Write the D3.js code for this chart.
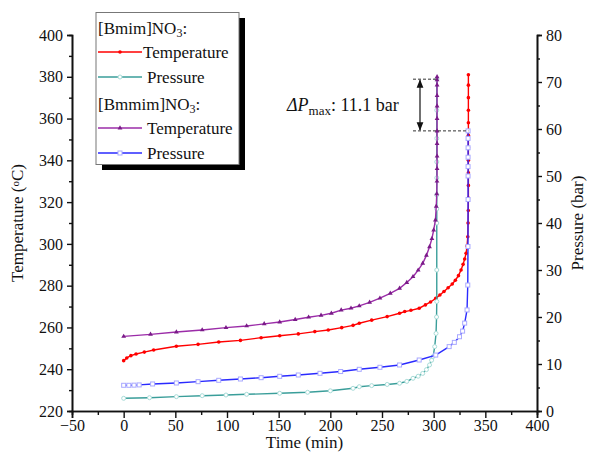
<!DOCTYPE html>
<html>
<head>
<meta charset="utf-8">
<script src="https://cdn.jsdelivr.net/npm/d3@7/dist/d3.min.js"></script>
<style>
  body { margin: 0; background: #fff; }
  svg text { font-family: 'Liberation Serif', 'Times New Roman', serif; fill: #111; }
</style>
</head>
<body>
<svg id="chart" width="590" height="454"></svg>
<script>
// [Bmim]NO3 temperature (red)
const bmimTempTime = [0, 3, 7, 12, 20, 29, 51, 72, 92, 113, 133, 151, 169, 185, 198, 211, 222, 228, 240, 255, 267, 272, 278, 286, 292, 297, 302, 306, 310, 314, 318, 321, 324, 326.5, 328.5, 330, 331.4, 332.3, 333, 333.3, 333.5, 333.6, 333.6, 333.6, 333.6, 333.6, 333.6, 333.6, 333.6, 333.6, 333.6, 333.6];
const bmimTemp = [244.1, 245.4, 246.5, 247.3, 248.2, 249.2, 251.0, 251.9, 253.0, 253.8, 255.1, 256.0, 256.9, 258.0, 258.8, 259.9, 261.0, 262.0, 263.5, 265.2, 266.8, 267.6, 268.2, 269.2, 270.8, 272.2, 273.9, 275.5, 277.2, 279.0, 280.8, 282.6, 284.8, 287.5, 290.2, 292.8, 295.5, 299, 303.4, 310, 316, 322, 328, 334, 340, 346, 352, 358, 364, 370, 376, 381];

// [Bmim]NO3 pressure (teal)
const bmimPresTime = [0, 25, 51, 76, 99, 119, 151, 178, 200, 222, 228, 240, 255, 267, 274, 280, 285, 289.4, 293, 296, 298, 299.5, 301, 302.3, 302.8, 303, 303, 303, 303, 303, 303, 303, 303, 303, 303];
const bmimPres = [2.7, 2.83, 3.05, 3.26, 3.4, 3.55, 3.77, 3.98, 4.3, 4.83, 5.17, 5.4, 5.65, 5.9, 6.3, 6.96, 7.4, 8.0, 8.8, 9.8, 10.8, 11.6, 13.7, 16.5, 20, 23.3, 30, 40, 43, 46, 49.6, 53, 58, 64, 70.6];

// [Bmmim]NO3 temperature (purple)
const bmmimTempTime = [0, 26, 51, 76, 99, 119, 136, 151, 166, 179, 191, 201, 210.5, 220, 228, 238, 248, 258, 267, 274, 280, 285, 289.4, 293, 296, 298.3, 300, 301.7, 302.5, 303, 303.2, 303.3, 303.3, 303.3, 303.3, 303.3, 303.3, 303.3, 303.3, 303.3, 303.3];
const bmmimTemp = [255.7, 256.7, 257.8, 258.8, 259.9, 260.7, 261.7, 262.6, 263.8, 264.9, 265.8, 266.8, 268.3, 269.2, 270.3, 272.0, 274.0, 276.3, 278.7, 281.5, 284.3, 287.4, 290.7, 294.5, 298.6, 302.5, 306.6, 311.4, 318, 324, 330, 336, 342, 348, 354, 360, 366, 371, 376, 378.5, 380];

// [Bmmim]NO3 pressure (blue)
const bmmimPresTime = [0, 5, 10, 15, 28, 51, 72, 92, 113, 133, 151, 169, 190, 210, 228, 248, 267, 286, 302, 315, 320, 325, 328, 330, 332.3, 333, 333.2, 333.3, 333.3, 333.3, 333.3, 333.3, 333.3, 333.3];
const bmmimPres = [5.47, 5.47, 5.5, 5.55, 5.75, 5.96, 6.24, 6.53, 6.81, 7.09, 7.38, 7.66, 8.02, 8.4, 8.87, 9.3, 9.79, 10.85, 11.9, 13.7, 14.6, 15.8, 17, 18.7, 21.5, 26.8, 35, 45, 50, 52, 54, 56, 58, 59.6];

const xTicks = [-50, 0, 50, 100, 150, 200, 250, 300, 350, 400];
const tempTicks = [220, 240, 260, 280, 300, 320, 340, 360, 380, 400];
const presTicks = [0, 10, 20, 30, 40, 50, 60, 70, 80];
const deltaP = '11.1';

const svg = d3.select('#chart');
const plotLeft = 72, plotRight = 537, plotTop = 35, plotBottom = 411;

const x = d3.scaleLinear().domain([-50, 400]).range([plotLeft, plotRight]);
const yT = d3.scaleLinear().domain([220, 400]).range([plotBottom, plotTop]);
const yP = d3.scaleLinear().domain([0, 80]).range([plotBottom, plotTop]);

function styleAxis(g) {
  g.select('.domain').attr('stroke', '#111').attr('stroke-width', 1.6);
  g.selectAll('.tick line').attr('stroke', '#111').attr('stroke-width', 1.4);
  g.selectAll('.tick text').style('font-size', '16px').style('font-family', "'Liberation Serif', serif").attr('fill', '#111');
}

// minor ticks first, then major ticks with labels
const gx = svg.append('g').attr('transform', `translate(0,${plotBottom})`);
gx.call(d3.axisBottom(x).tickValues(d3.range(-25, 400, 50)).tickSize(4).tickFormat('')).call(styleAxis);
gx.append('g').call(d3.axisBottom(x).tickValues(xTicks).tickSize(7).tickPadding(2).tickFormat(d3.format('d'))).call(styleAxis);

const gl = svg.append('g').attr('transform', `translate(${plotLeft},0)`);
gl.call(d3.axisLeft(yT).tickValues(d3.range(230, 400, 20)).tickSize(3).tickFormat('')).call(styleAxis);
gl.append('g').call(d3.axisLeft(yT).tickValues(tempTicks).tickSize(5).tickPadding(4)).call(styleAxis);

const gr = svg.append('g').attr('transform', `translate(${plotRight},0)`);
gr.call(d3.axisRight(yP).tickValues(d3.range(5, 80, 10)).tickSize(3).tickFormat('')).call(styleAxis);
gr.append('g').call(d3.axisRight(yP).tickValues(presTicks).tickSize(5).tickPadding(4)).call(styleAxis);

// series
const series = [
  { t: bmimTempTime, v: bmimTemp, y: yT, color: '#ff0000', mark: 'dot', mcolor: '#ff0000' },
  { t: bmimPresTime, v: bmimPres, y: yP, color: '#3a9e9a', mark: 'circle', mcolor: '#a8dcd8' },
  { t: bmmimTempTime, v: bmmimTemp, y: yT, color: '#9b2ca8', mark: 'tri', mcolor: '#7a1a88' },
  { t: bmmimPresTime, v: bmmimPres, y: yP, color: '#2a2aff', mark: 'square', mcolor: '#a9a9ff' },
];

series.forEach((s) => {
  const pts = s.t.map((t, i) => [t, s.v[i]]);
  const line = d3.line().x((d) => x(d[0])).y((d) => s.y(d[1]));
  svg.append('path').datum(pts).attr('d', line)
    .attr('fill', 'none').attr('stroke', s.color).attr('stroke-width', 1.4);
  const g = svg.append('g');
  pts.forEach((d) => {
    const cx = x(d[0]), cy = s.y(d[1]);
    if (s.mark === 'dot') {
      g.append('circle').attr('cx', cx).attr('cy', cy).attr('r', 1.8).attr('fill', s.mcolor);
    } else if (s.mark === 'circle') {
      g.append('circle').attr('cx', cx).attr('cy', cy).attr('r', 2).attr('fill', '#fff').attr('stroke', s.mcolor).attr('stroke-width', 1);
    } else if (s.mark === 'tri') {
      g.append('path').attr('d', d3.symbol(d3.symbolTriangle, 10)()).attr('transform', `translate(${cx},${cy})`).attr('fill', s.mcolor);
    } else {
      g.append('rect').attr('x', cx - 2).attr('y', cy - 2).attr('width', 4).attr('height', 4).attr('fill', '#fff').attr('stroke', s.mcolor).attr('stroke-width', 1);
    }
  });
});

// axis titles
svg.append('text').attr('x', (plotLeft + plotRight) / 2).attr('y', 448).attr('text-anchor', 'middle')
  .style('font-size', '17px').text('Time (min)');
const tt = svg.append('text').attr('transform', `translate(23,${(plotTop + plotBottom) / 2}) rotate(-90)`)
  .attr('text-anchor', 'middle').style('font-size', '17px');
tt.append('tspan').text('Temperature (');
tt.append('tspan').attr('baseline-shift', '35%').style('font-size', '11px').text('o');
tt.append('tspan').text('C)');
svg.append('text').attr('transform', `translate(583,${(plotTop + plotBottom) / 2}) rotate(-90)`)
  .attr('text-anchor', 'middle').style('font-size', '17px').text('Pressure (bar)');

// delta P annotation
const pHi = d3.max(bmimPres), pLo = d3.max(bmmimPres);
const ax = 420;
const dash = svg.append('g').attr('stroke', '#333').attr('stroke-width', 1).attr('stroke-dasharray', '3,2');
dash.append('line').attr('x1', 413).attr('x2', x(303.3)).attr('y1', yP(pHi)).attr('y2', yP(pHi));
dash.append('line').attr('x1', 413).attr('x2', x(333.6)).attr('y1', yP(pLo)).attr('y2', yP(pLo));
const defs = svg.append('defs');
defs.append('marker').attr('id', 'ah').attr('viewBox', '0 0 10 10').attr('refX', 9).attr('refY', 5)
  .attr('markerWidth', 7).attr('markerHeight', 9).attr('orient', 'auto-start-reverse')
  .append('path').attr('d', 'M0,1 L10,5 L0,9 Z').attr('fill', '#111');
svg.append('line').attr('x1', ax).attr('x2', ax).attr('y1', yP(pHi) + 1).attr('y2', yP(pLo) - 1)
  .attr('stroke', '#111').attr('stroke-width', 1.2)
  .attr('marker-start', 'url(#ah)').attr('marker-end', 'url(#ah)');
const at = svg.append('text').attr('x', 287).attr('y', 111).style('font-size', '18px');
at.append('tspan').style('font-style', 'italic').text('ΔP');
at.append('tspan').attr('baseline-shift', '-30%').style('font-size', '13px').text('max');
at.append('tspan').text(`: ${deltaP} bar`);

// legend
const lg = svg.append('g');
lg.append('rect').attr('x', 102).attr('y', 18).attr('width', 143).attr('height', 152).attr('fill', '#000');
lg.append('rect').attr('x', 96).attr('y', 12.5).attr('width', 143).attr('height', 152)
  .attr('fill', '#fff').attr('stroke', '#777').attr('stroke-width', 1);
function header(y, name) {
  const t = lg.append('text').attr('x', 98).attr('y', y).style('font-size', '17px');
  t.append('tspan').text(`[${name}]NO`);
  t.append('tspan').attr('baseline-shift', '-25%').style('font-size', '12px').text('3');
  t.append('tspan').text(':');
}
function entry(y, s, label, tx) {
  lg.append('line').attr('x1', 98).attr('x2', 142).attr('y1', y).attr('y2', y).attr('stroke', s.color).attr('stroke-width', 1.4);
  if (s.mark === 'dot' || s.mark === 'circle') {
    lg.append('circle').attr('cx', 120).attr('cy', y).attr('r', s.mark === 'dot' ? 1.8 : 2)
      .attr('fill', s.mark === 'dot' ? s.mcolor : '#fff').attr('stroke', s.mark === 'dot' ? 'none' : s.mcolor);
  } else if (s.mark === 'tri') {
    lg.append('path').attr('d', d3.symbol(d3.symbolTriangle, 10)()).attr('transform', `translate(120,${y})`).attr('fill', s.mcolor);
  } else {
    lg.append('rect').attr('x', 118).attr('y', y - 2).attr('width', 4).attr('height', 4).attr('fill', '#fff').attr('stroke', s.mcolor);
  }
  lg.append('text').attr('x', tx).attr('y', y + 6).style('font-size', '17px').text(label);
}
header(34, 'Bmim');
entry(52, series[0], 'Temperature', 143);
entry(77, series[1], 'Pressure', 147);
header(110, 'Bmmim');
entry(128, series[2], 'Temperature', 147);
entry(153, series[3], 'Pressure', 147);
</script>
</body>
</html>
